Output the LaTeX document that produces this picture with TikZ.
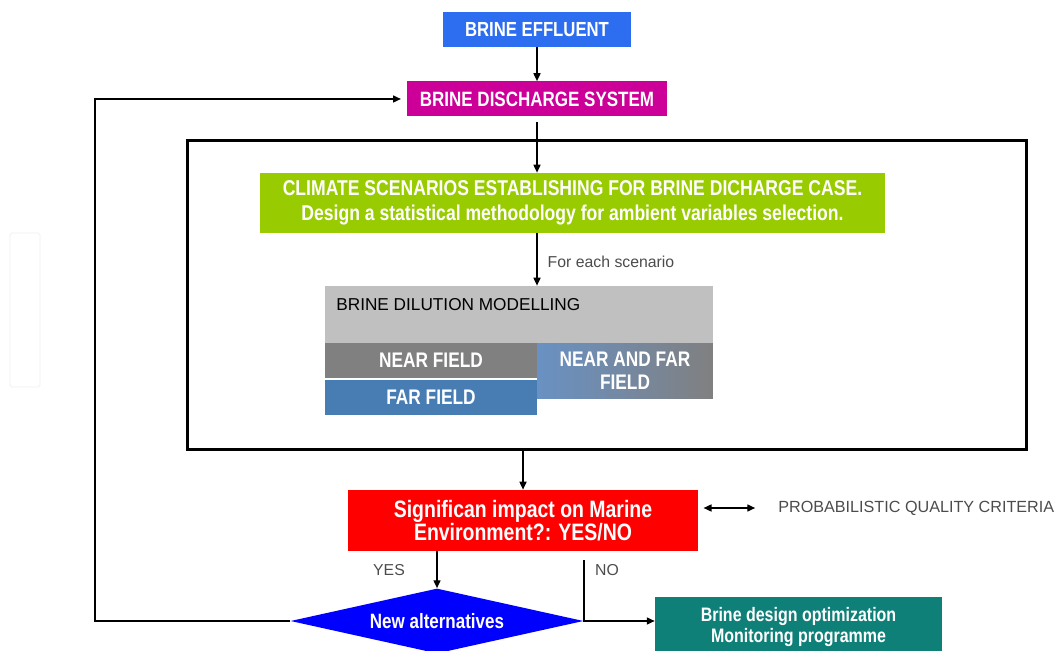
\documentclass[tikz,border=0pt]{standalone}
\usepackage{fontspec}
\setmainfont{Liberation Sans}
\newfontfamily\narrowfont[FakeStretch=0.82]{Liberation Sans}
\usepackage{tikz}
\usetikzlibrary{shapes.geometric,arrows.meta}

\definecolor{effblue}{RGB}{45,110,240}
\definecolor{dismagenta}{RGB}{204,0,153}
\definecolor{climgreen}{RGB}{153,204,0}
\definecolor{dilgray}{RGB}{192,192,192}
\definecolor{neargray}{RGB}{128,128,128}
\definecolor{farblue}{RGB}{72,125,180}
\definecolor{nfblue}{RGB}{105,145,195}
\definecolor{impred}{RGB}{255,0,0}
\definecolor{altblue}{RGB}{0,0,255}
\definecolor{optteal}{RGB}{15,128,120}

\begin{document}
\begin{tikzpicture}[x=0.02cm, y=-0.02cm,
  box/.style={inner sep=0pt, align=center, text=white},
  arr/.style={-{Triangle[length=4.5pt,width=4pt]}, line width=0.8pt},
  dbl/.style={{Triangle[length=4.5pt,width=4pt]}-{Triangle[length=4.5pt,width=4pt]}, line width=0.8pt},
  note/.style={inner sep=0pt, text=black!70}]
  \useasboundingbox (0,0) rectangle (1054,651);
  \clip (0,0) rectangle (1054,651);

  \draw[black!7, rounded corners=1pt] (10,233) rectangle (40,387);

  \node[box, fill=effblue, minimum width=3.78cm, minimum height=0.7cm,
    font=\narrowfont\bfseries\fontsize{11.6}{13}\selectfont] (eff) at (537,29.5) {BRINE EFFLUENT};
  \node[box, fill=dismagenta, minimum width=5.22cm, minimum height=0.7cm,
    font=\narrowfont\bfseries\fontsize{11.8}{14}\selectfont] (dis) at (537,99) {BRINE DISCHARGE SYSTEM};

  \node[draw, line width=1.7pt, minimum width=16.8cm, minimum height=6.2cm, inner sep=0pt] (frame) at (607,295) {};

  \node[box, fill=climgreen, minimum width=12.5cm, minimum height=1.2cm,
    font=\narrowfont\bfseries\fontsize{12.2}{14.2}\selectfont] (clim) at (572.5,203)
    {CLIMATE SCENARIOS ESTABLISHING FOR BRINE DICHARGE CASE.\\Design a statistical methodology for ambient variables selection.};

  \node[fill=dilgray, minimum width=7.76cm, minimum height=1.14cm, inner sep=0pt] (dil) at (519,314.5) {};
  \node[anchor=west, inner sep=0pt, font=\fontsize{9.8}{12}\selectfont] (dillbl) at (336,305) {BRINE DILUTION MODELLING};
  \node[box, fill=neargray, minimum width=4.24cm, minimum height=0.7cm,
    font=\narrowfont\bfseries\fontsize{12}{14}\selectfont] (near) at (431,360.5) {NEAR FIELD};
  \node[box, fill=farblue, minimum width=4.24cm, minimum height=0.7cm,
    font=\narrowfont\bfseries\fontsize{12}{14}\selectfont] (far) at (431,397.5) {FAR FIELD};
  \node[box, left color=nfblue, right color=neargray, minimum width=3.52cm, minimum height=1.12cm,
    font=\narrowfont\bfseries\fontsize{12}{13}\selectfont] (nearfar) at (625,371) {NEAR AND FAR\\FIELD};

  \node[box, fill=impred, minimum width=7cm, minimum height=1.22cm,
    font=\narrowfont\bfseries\fontsize{13.5}{13}\selectfont] (imp) at (523,520.5)
    {Significan impact on Marine\\Environment?: YES/NO};
  \node[note, anchor=west, font=\fontsize{9.2}{11}\selectfont] (crit) at (778,508) {PROBABILISTIC QUALITY CRITERIA};

  \node[diamond, aspect=4.5, fill=altblue, minimum width=5.86cm, minimum height=1.3cm, inner sep=0pt, text=white,
    font=\narrowfont\bfseries\fontsize{11.8}{14}\selectfont] (alt) at (437,621) {New alternatives};
  \node[box, fill=optteal, minimum width=5.74cm, minimum height=1.2cm,
    font=\narrowfont\bfseries\fontsize{11.1}{12}\selectfont] (opt) at (798.5,627)
    {Brine design optimization\\Monitoring programme};

  \node[note, font=\fontsize{9}{11}\selectfont] (each) at (611,262) {For each scenario};
  \node[note, font=\fontsize{9}{11}\selectfont] (yes) at (389,570) {YES};
  \node[note, font=\fontsize{9}{11}\selectfont] (no) at (607,570) {NO};

  \coordinate (back) at (95,99);

  \draw[arr] (eff) -- (dis);
  \draw[arr] ([yshift=-3pt]dis.south) -- (dis.south |- clim.north);
  \draw[arr] (dis.south |- clim.south) -- (dis.south |- dil.north);
  \draw[arr] (frame.south -| imp) -- (imp.north);
  \draw[dbl] ([xshift=3pt]imp.east |- crit.west) -- ([xshift=-13pt]crit.west);
  \draw[arr] (alt.north |- imp.south) -- (alt.north);
  \draw[arr] ([yshift=-5pt]imp.south -| alt.east) -- (alt.east) -- (alt.east -| opt.west);
  \draw[arr] (alt.west) -| (back) |- ([xshift=-3pt]dis.west);
\end{tikzpicture}
\end{document}
